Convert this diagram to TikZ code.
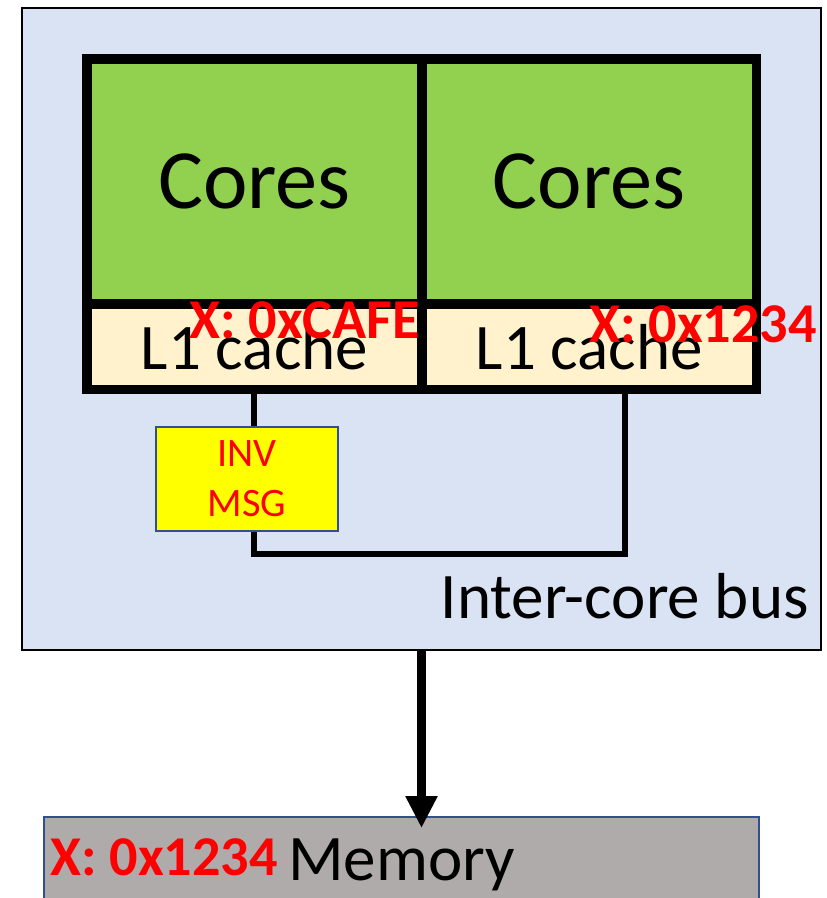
\documentclass[tikz,border=0pt]{standalone}
\usepackage{fontspec}
\setmainfont{Carlito}
\usetikzlibrary{arrows.meta}
\definecolor{busblue}{HTML}{DAE3F3}
\definecolor{coregreen}{HTML}{92D050}
\definecolor{cachecream}{HTML}{FFF2CC}
\definecolor{memgray}{HTML}{AFABAB}
\definecolor{edgeblue}{HTML}{2F528F}
\definecolor{msgyellow}{HTML}{FFFF00}
\definecolor{addrred}{HTML}{FF0000}
\newcommand{\fsize}[2]{\fontsize{#1}{#2}\selectfont}
\begin{document}
\begin{tikzpicture}[x=0.02cm, y=-0.02cm,
    corebox/.style={draw, line width=5.6pt, inner sep=0pt, outer sep=0pt},
    wire/.style={line width=3pt},
    addr/.style={text=addrred, font=\bfseries\fsize{32pt}{32pt}, inner sep=0pt},
    bigtext/.style={font=\fsize{37pt}{37pt}, inner sep=0pt}]
  \clip (0,0) rectangle (827,898);

  \node[draw, line width=1pt, fill=busblue, minimum width=15.98cm, minimum height=12.84cm, inner sep=0pt] (chip) at (421.5,329) {};

  \begin{scope}
    \node[corebox, fill=coregreen, minimum width=6.7cm, minimum height=4.9cm, font=\fsize{48pt}{48pt}] (coreA) at (254.5,181.5) {Cores};
    \node[corebox, fill=cachecream, minimum width=6.7cm, minimum height=1.71cm, font=\fsize{37pt}{37pt}] (l1A) at (254.5,346.75) {L1 cache};
    \node[corebox, fill=coregreen, minimum width=6.69cm, minimum height=4.9cm, font=\fsize{48pt}{48pt}] (coreB) at (589.25,181.5) {Cores};
    \node[corebox, fill=cachecream, minimum width=6.69cm, minimum height=1.71cm, font=\fsize{37pt}{37pt}] (l1B) at (589.25,346.75) {L1 cache};
    \node[addr, anchor=base west] (addrA) at (189,338) {X: 0xCAFE};
    \node[addr, anchor=base west] (addrB) at (589,342) {X: 0x1234};
  \end{scope}

  \node[draw=edgeblue, line width=1pt, fill=msgyellow, minimum width=3.64cm, minimum height=2.08cm, align=center, text=addrred, font=\fsize{23pt}{28.4pt}] (invmsg) at (247,479) {INV\\MSG};
  \coordinate (busL) at (254,554);
  \coordinate (busR) at (625,554);
  \draw[wire] (l1A.south -| busL) -- (busL |- invmsg.north);
  \draw[wire] (busL |- invmsg.south) -- (busL) -- (busR) -- (busR |- l1B.south);

  \node[bigtext, anchor=base east] (buslabel) at (809,618) {Inter-core bus};

  \node[draw=edgeblue, line width=1pt, fill=memgray, minimum width=14.3cm, minimum height=2cm, inner sep=0pt] (memory) at (401.5,867) {};
  \node[addr, anchor=base west] (memaddr) at (50,875) {X: 0x1234};
  \node[bigtext, anchor=base west] (memlabel) at (288,880) {Memory};

  \draw[-{Triangle[width=0.6cm,length=0.64cm]}, line width=5.6pt, shorten >=-0.24cm] (chip.south) -- (chip.south |- memory.north);
\end{tikzpicture}
\end{document}
